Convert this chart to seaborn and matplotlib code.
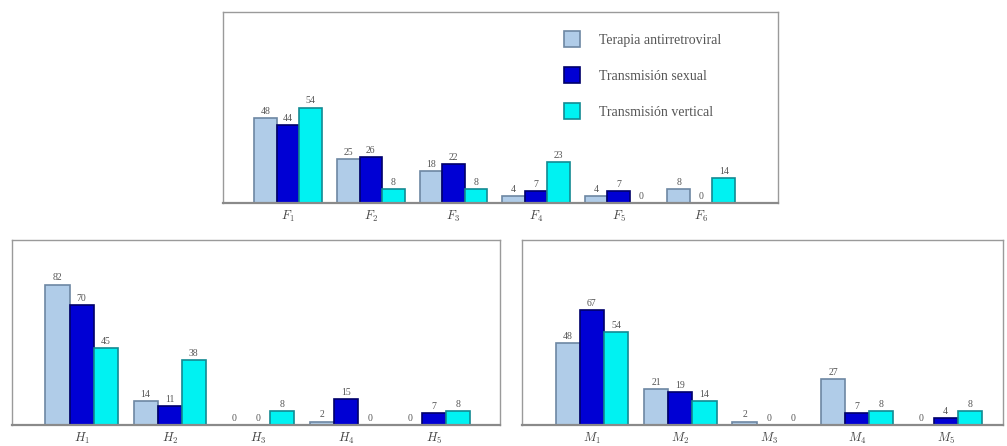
import matplotlib
matplotlib.use("Agg")
import matplotlib.pyplot as plt
import pandas as pd
import seaborn as sns

# Series names
series = ["Terapia antirretroviral", "Transmisión sexual", "Transmisión vertical"]

# Top panel
cats_f = ["$F_1$", "$F_2$", "$F_3$", "$F_4$", "$F_5$", "$F_6$"]
f_terapia = [48, 25, 18, 4, 4, 8]
f_sexual = [44, 26, 22, 7, 7, 0]
f_vertical = [54, 8, 8, 23, 0, 14]

# Bottom-left panel
cats_h = ["$H_1$", "$H_2$", "$H_3$", "$H_4$", "$H_5$"]
h_terapia = [82, 14, 0, 2, 0]
h_sexual = [70, 11, 0, 15, 7]
h_vertical = [45, 38, 8, 0, 8]

# Bottom-right panel
cats_m = ["$M_1$", "$M_2$", "$M_3$", "$M_4$", "$M_5$"]
m_terapia = [48, 21, 2, 27, 0]
m_sexual = [67, 19, 0, 7, 4]
m_vertical = [54, 14, 0, 8, 8]

fills = ["#b0cce8", "#0000d4", "#00f2f2"]
edges = ["#6d87a3", "#00006a", "#138a92"]

sns.set_style("white")
plt.rcParams["font.family"] = ["Liberation Serif", "DejaVu Serif"]
plt.rcParams["mathtext.fontset"] = "cm"


def to_frame(cats, a, b, c):
    rows = []
    for vals, name in zip([a, b, c], series):
        for cat, v in zip(cats, vals):
            rows.append({"cat": cat, "serie": name, "valor": v})
    return pd.DataFrame(rows)


def panel(ax, cats, a, b, c, xlim, legend=False):
    df = to_frame(cats, a, b, c)
    sns.barplot(data=df, x="cat", y="valor", hue="serie", hue_order=series,
                order=cats, palette=fills, saturation=1, width=0.82, gap=0,
                linewidth=1.2, edgecolor="#333333", ax=ax, legend=legend)
    for cont, ec in zip(ax.containers, edges):
        for p in cont:
            p.set_edgecolor(ec)
        ax.bar_label(cont, labels=[f"{int(round(p.get_height()))}" for p in cont],
                     padding=1.5, fontsize=7, color="#555555")
    ax.set_xlim(*xlim)
    ax.set_ylim(0, 108)
    ax.set_xlabel("")
    ax.set_ylabel("")
    ax.set_yticks([])
    ax.tick_params(axis="x", length=0, pad=4, labelsize=9, labelcolor="#444444")
    for s in ax.spines.values():
        s.set_visible(True)
        s.set_color("#9a9a9a")
        s.set_linewidth(1.0)
    ax.spines["bottom"].set_color("#8a8a8a")
    ax.spines["bottom"].set_linewidth(1.6)


fig = plt.figure(figsize=(10.07, 4.46), dpi=100)
ax_top = fig.add_axes([0.2214, 0.5448, 0.5512, 0.4283])
ax_h = fig.add_axes([0.0119, 0.0471, 0.4846, 0.4148])
ax_m = fig.add_axes([0.5184, 0.0471, 0.4777, 0.4148])

panel(ax_top, cats_f, f_terapia, f_sexual, f_vertical, (-0.79, 5.93), legend=True)
panel(ax_h, cats_h, h_terapia, h_sexual, h_vertical, (-0.79, 4.75))
panel(ax_m, cats_m, m_terapia, m_sexual, m_vertical, (-0.79, 4.65))

leg = ax_top.legend(loc="upper left", bbox_to_anchor=(0.605, 0.93), frameon=False,
                    fontsize=10, handlelength=1.1, handleheight=1.4,
                    labelspacing=1.45, handletextpad=1.4, borderaxespad=0.0)
for h, ec in zip(leg.legend_handles, edges):
    h.set_edgecolor(ec)
for t in leg.get_texts():
    t.set_color("#555555")

fig.savefig("out.png", dpi=100)
